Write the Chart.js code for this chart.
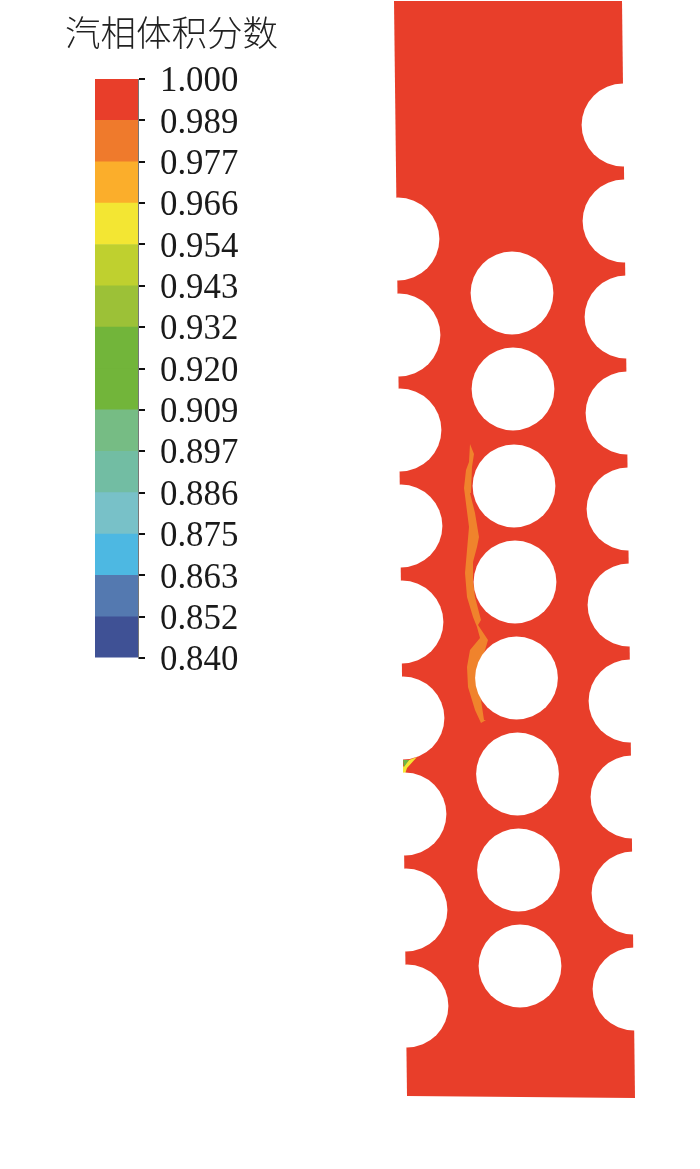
<!DOCTYPE html>
<html>
<head>
<meta charset="utf-8">
<script src="https://cdn.jsdelivr.net/npm/chart.js@4/dist/chart.umd.js"></script>
<style>
  html, body { margin: 0; padding: 0; background: #fff; }
  body { position: relative; width: 700px; height: 1169px; overflow: hidden; }
  canvas { position: absolute; left: 0; top: 0; }
</style>
</head>
<body>
<canvas id="fieldChart" width="700" height="1169" style="width:700px;height:1169px"></canvas>
<canvas id="scaleChart" width="300" height="694" style="width:300px;height:694px"></canvas>
<script>
// ====== DATA ======
const titleText = '汽相体积分数';
const tickLabels = ['0.840', '0.852', '0.863', '0.875', '0.886', '0.897', '0.909', '0.920',
    '0.932', '0.943', '0.954', '0.966', '0.977', '0.989', '1.000'];
const bandColors = ['#3F5195', '#5479B0', '#4DB8E2', '#78C1C8', '#72BDA3', '#76BC84', '#72B53A',
    '#72B53A', '#9CC137', '#BFD02F', '#F3E633', '#FBAE2B', '#EF7A2C', '#E83E2A'];

// plate outline
const plateX = [394, 622, 635, 407];
const plateY = [1, 1, 1098, 1096];

// holes
const leftHoleX = [398, 399, 400, 401, 402, 403, 405, 406, 407];
const leftHoleY = [239, 335, 430, 526, 622, 718, 814, 910, 1006];
const rightHoleX = [623, 624, 626, 627, 628, 629, 630, 632, 633];
const rightHoleY = [125, 221, 317, 413, 509, 605, 701, 797, 893];
const lastRightHole = [{ x: 634, y: 989 }];
const innerHoleX = [512, 513, 514, 515, 516.5, 517.5, 518.5, 520];
const innerHoleY = [293, 389, 486, 582, 678, 774, 870, 966];

// lower vapour fraction streak beside the holes
const streakX = [470, 474, 472, 471, 470, 475, 479, 477, 473, 473, 475, 481, 478, 488, 483, 479, 478, 481, 484, 486, 481, 475,
    468, 467, 470, 480, 477, 473, 467, 465, 467, 469, 464, 466, 469];
const streakY = [444, 454, 467, 493, 493, 513, 537, 547, 562, 580, 597, 620, 625, 640, 657, 677, 677, 700, 720, 720, 723, 710,
    687, 667, 650, 638, 627, 617, 597, 573, 550, 527, 488, 470, 462];

// small wedge at the ridge on the left edge
const wedgeGreenX = [403, 409, 404];
const wedgeGreenY = [760, 760, 767];
const wedgeYellowX = [403, 409, 417, 407, 405, 403];
const wedgeYellowY = [767, 760, 757, 768, 774, 773];

const plateColor = '#E83E2A';
const streakColor = '#F0832C';
const holeRadius = 41.4;

const zip = (xs, ys) => xs.map((x, i) => ({ x, y: ys[i] }));

const shape = (xs, ys, color, order) => ({
    data: zip(xs, ys),
    showLine: true,
    fill: 'shape',
    backgroundColor: color,
    borderColor: color,
    borderWidth: 0,
    pointRadius: 0,
    order
});

const holes = (points) => ({
    data: points,
    showLine: false,
    pointRadius: holeRadius,
    pointBackgroundColor: '#FFFFFF',
    pointBorderWidth: 0,
    order: 0
});

// ====== PLATE ======
new Chart(document.getElementById('fieldChart'), {
    type: 'scatter',
    data: {
        datasets: [
            holes(zip(leftHoleX, leftHoleY)),
            holes(zip(rightHoleX, rightHoleY).concat(lastRightHole)),
            holes(zip(innerHoleX, innerHoleY)),
            shape(wedgeGreenX, wedgeGreenY, '#6DB548', 1),
            shape(wedgeYellowX, wedgeYellowY, '#F3E633', 2),
            shape(streakX, streakY, streakColor, 3),
            shape(plateX, plateY, plateColor, 4)
        ]
    },
    options: {
        responsive: false,
        animation: false,
        layout: { padding: 0, autoPadding: false },
        plugins: { legend: { display: false }, tooltip: { enabled: false } },
        scales: {
            x: { type: 'linear', display: false, min: 0, max: 700 },
            y: { type: 'linear', display: false, min: 0, max: 1169, reverse: true }
        }
    }
});

// ====== COLOUR SCALE ======
new Chart(document.getElementById('scaleChart'), {
    type: 'bar',
    data: {
        labels: [''],
        datasets: bandColors.map(color => ({
            data: [1],
            backgroundColor: color,
            barPercentage: 1,
            categoryPercentage: 1
        }))
    },
    options: {
        responsive: false,
        animation: false,
        layout: { padding: { left: 95, top: 79, bottom: 9, right: 0 }, autoPadding: false },
        plugins: { legend: { display: false }, tooltip: { enabled: false } },
        scales: {
            x: { stacked: true, display: false },
            y: {
                stacked: true,
                position: 'right',
                min: 0,
                max: tickLabels.length - 1,
                afterFit: scale => { scale.width = 162; },
                grid: { drawOnChartArea: false, drawTicks: true, tickLength: 7, color: '#111', lineWidth: 2 },
                border: { color: '#777', width: 1 },
                ticks: {
                    stepSize: 1,
                    autoSkip: false,
                    padding: 15,
                    labelOffset: 3,
                    color: '#1a1a1a',
                    font: { family: '"Liberation Serif"', size: 34.8 },
                    callback: value => tickLabels[value]
                }
            }
        }
    },
    plugins: [{
        // title sits above the bar, the plot area is fixed so it is written in here
        id: 'scaleTitle',
        afterDraw(chart) {
            const ctx = chart.ctx;
            ctx.save();
            ctx.font = '300 35.5px "Noto Sans CJK SC"';
            ctx.fillStyle = '#222';
            ctx.textBaseline = 'middle';
            ctx.fillText(titleText, 65, 33);
            ctx.restore();
        }
    }]
});
</script>
</body>
</html>
